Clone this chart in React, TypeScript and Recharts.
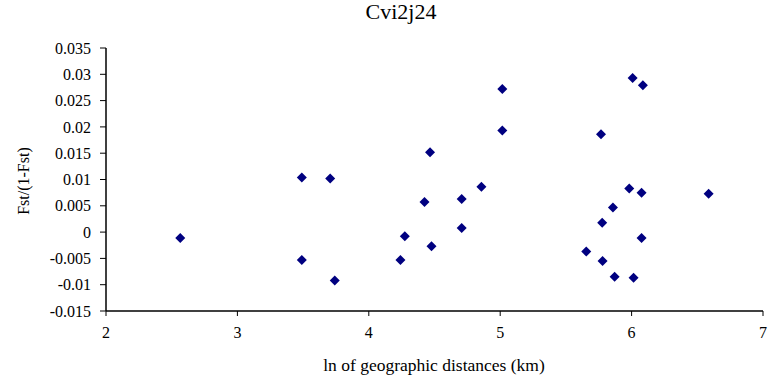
import { ScatterChart, Scatter, XAxis, YAxis } from "recharts";

// ln of geographic distance (km) and Fst/(1-Fst), one entry per population pair
const lnDistance = [
  2.565, 3.49, 3.49, 3.706, 3.741, 4.241, 4.274, 4.424, 4.466, 4.477, 4.707,
  4.707, 4.857, 5.016, 5.016, 5.655, 5.767, 5.776, 5.779, 5.858, 5.871, 5.982,
  6.008, 6.015, 6.076, 6.076, 6.086, 6.586,
];
const fstRatio = [
  -0.0011, 0.0104, -0.0053, 0.0102, -0.0092, -0.0053, -0.0008, 0.0057, 0.0152,
  -0.0027, 0.0063, 0.0008, 0.0086, 0.0272, 0.0193, -0.0037, 0.0186, 0.0018,
  -0.0055, 0.0047, -0.0085, 0.0083, 0.0293, -0.0087, -0.0011, 0.0075, 0.0279,
  0.0073,
];
const xTicks = [2, 3, 4, 5, 6, 7];
const yTicks = [
  -0.015, -0.01, -0.005, 0, 0.005, 0.01, 0.015, 0.02, 0.025, 0.03, 0.035,
];

const points = lnDistance.map((x, i) => ({ x, y: fstRatio[i] }));

const FONT = '"Liberation Serif", "Times New Roman", serif';
const NAVY = "#000080";

function Diamond(props: any) {
  const { cx, cy } = props;
  if (cx == null || cy == null) return null;
  const r = 5;
  return (
    <polygon
      points={`${cx},${cy - r} ${cx + r},${cy} ${cx},${cy + r} ${cx - r},${cy}`}
      fill={NAVY}
    />
  );
}

const fmt = (v: number) => String(+v.toFixed(3));

export default function App() {
  const tickStyle = { fill: "#000", fontSize: 16, fontFamily: FONT };
  return (
    <div
      style={{
        position: "absolute",
        left: 0,
        top: 0,
        width: 773,
        height: 384,
        background: "#fff",
        fontFamily: FONT,
      }}
    >
      <div
        style={{
          position: "absolute",
          left: 301,
          width: 200,
          top: 1,
          textAlign: "center",
          fontSize: 22,
          lineHeight: "22px",
          color: "#000",
        }}
      >
        Cvi2j24
      </div>
      <ScatterChart
        width={773}
        height={384}
        margin={{ top: 48, right: 10, bottom: 43, left: 0 }}
      >
        <XAxis
          type="number"
          dataKey="x"
          domain={[2, 7]}
          ticks={xTicks}
          allowDataOverflow
          height={30}
          tickSize={5}
          tickMargin={11}
          tick={tickStyle}
          stroke="#000"
          axisLine={{ stroke: "#000", strokeWidth: 1.5 }}
          tickLine={{ stroke: "#000" }}
        />
        <XAxis
          xAxisId="top"
          orientation="top"
          type="number"
          domain={[2, 7]}
          height={0}
          tick={false}
          tickLine={false}
          axisLine={{ stroke: "#000", strokeWidth: 1.5 }}
        />
        <YAxis
          type="number"
          dataKey="y"
          domain={[-0.015, 0.035]}
          ticks={yTicks}
          allowDataOverflow
          width={106}
          tickSize={6}
          tickMargin={9}
          tickFormatter={fmt}
          tick={tickStyle}
          axisLine={{ stroke: "#000", strokeWidth: 1.5 }}
          tickLine={{ stroke: "#000" }}
        />
        <YAxis
          yAxisId="right"
          orientation="right"
          type="number"
          domain={[-0.015, 0.035]}
          width={0}
          tick={false}
          tickLine={false}
          axisLine={{ stroke: "#808080", strokeWidth: 1.5 }}
        />
        <Scatter
          data={points}
          shape={<Diamond />}
          fill={NAVY}
          isAnimationActive={false}
        />
      </ScatterChart>
      <div
        style={{
          position: "absolute",
          left: 234,
          width: 400,
          top: 357,
          textAlign: "center",
          fontSize: 17.5,
          lineHeight: "17.5px",
          color: "#000",
        }}
      >
        ln of geographic distances (km)
      </div>
      <div
        style={{
          position: "absolute",
          left: 24 - 60,
          top: 181 - 8,
          width: 120,
          height: 16,
          textAlign: "center",
          fontSize: 16,
          lineHeight: "16px",
          color: "#000",
          transform: "rotate(-90deg)",
        }}
      >
        Fst/(1-Fst)
      </div>
    </div>
  );
}
